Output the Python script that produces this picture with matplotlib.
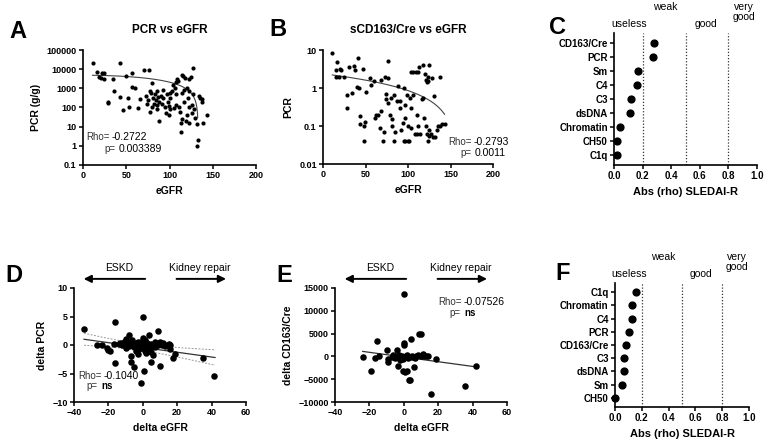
import matplotlib
matplotlib.use("Agg")
import matplotlib.pyplot as plt
import matplotlib.ticker as ticker
import numpy as np

plt.rcParams['font.family'] = ['Liberation Sans', 'DejaVu Sans']

# ---- data ----
# A: PCR vs eGFR
a_egfr = [11, 16, 19, 21, 22, 24, 24, 29, 29, 35, 36, 43, 43, 46, 50, 52, 53, 57, 57, 60,
          64, 66, 70, 73, 74, 75, 76, 77, 78, 79, 80, 80, 81, 82, 83, 84, 85, 86, 86, 87,
          88, 88, 90, 91, 92, 93, 95, 96, 97, 98, 99, 99, 100, 100, 101,
          103, 104, 106, 107, 108, 109, 110, 111, 112, 113, 113, 114, 115, 116, 117, 118, 119,
          120, 120, 121, 122, 123, 123, 125, 126, 126, 127, 128, 130, 132, 132, 133, 134, 135,
          137, 138, 139, 143, 105, 108, 115, 117, 122, 127]
a_pcr = [22000, 7000, 3800, 3500, 6000, 6500, 3000, 200, 170, 3000, 700, 22000, 350, 70, 4200,
         300, 100, 6000, 1200, 1100,
         90, 280, 9500, 400, 150, 250, 9500, 700, 60, 600, 2000, 100, 300, 150, 500, 250, 80,
         700, 130, 350, 20, 200, 400, 150, 300, 800, 100, 50, 500, 200, 40, 120, 600, 80, 300,
         700, 1500, 1000, 2200, 500, 3000, 2500, 100, 60, 16, 5, 600, 5000, 4500, 200, 3500, 20,
         1000, 40, 300, 3000, 100, 15, 3800, 130, 50, 12000, 80, 30, 14, 1, 2, 400, 300,
         280, 200, 15, 40, 90, 130, 25, 800, 700, 500]

# B: sCD163/Cre vs eGFR
b_egfr = [11, 17, 15, 15, 20, 21, 19, 25, 31, 28, 28, 34, 36, 41, 38, 47, 40, 42, 43, 43, 49,
          48, 48, 50, 55, 60, 56, 62, 61, 65, 68, 68, 71, 73, 76, 77, 74, 74, 67, 72, 77, 80,
          83, 79, 81, 81, 85, 84, 88, 90, 87, 91, 92, 95, 97, 100, 101, 95, 97, 96, 94, 100,
          104, 108, 110, 99, 102, 104, 106, 103, 106, 109, 112, 110, 112, 114, 116, 118, 119,
          113, 118, 120, 122, 121, 123, 124, 121, 125, 127, 129, 122, 123, 125, 125, 128, 131,
          132, 134, 135, 138, 140, 138, 143]
b_ratio = [8.2, 4.9, 3.0, 2.0, 3.2, 2.9, 2.0, 2.0, 3.6, 0.65, 0.29, 0.76, 3.8, 6.0, 2.9, 3.2,
           1.05, 1.0, 0.18, 0.11, 0.13, 0.10, 0.04, 0.8, 1.8, 1.5, 1.2, 0.2, 0.16, 0.2, 0.25,
           1.6, 0.04, 2.0, 1.8, 5.0, 0.7, 0.5, 0.09, 0.07, 0.4, 0.55, 0.65, 0.2, 0.15, 0.1,
           0.07, 0.04, 1.1, 0.3, 0.45, 0.45, 0.08, 0.04, 0.04, 0.04, 0.04, 0.98, 0.36, 0.16,
           0.12, 0.1, 0.09, 0.06, 0.06, 0.65, 0.55, 0.3, 0.65, 2.7, 2.7, 2.7, 2.6, 0.2, 0.1,
           0.06, 0.5, 0.55, 0.16, 3.5, 4.0, 2.3, 1.4, 1.6, 1.9, 1.5, 0.1, 0.08, 0.06, 0.05,
           0.06, 0.04, 0.055, 4.0, 1.8, 0.6, 0.05, 0.08, 0.1, 0.1, 0.11, 1.9, 0.11]

# C / F: abs(rho) vs SLEDAI-R
c_names = ["CD163/Cre", "PCR", "Sm", "C4", "C3", "dsDNA", "Chromatin", "CH50", "C1q"]
c_rho = [0.28, 0.27, 0.17, 0.16, 0.12, 0.11, 0.04, 0.02, 0.02]
f_names = ["C1q", "Chromatin", "C4", "PCR", "CD163/Cre", "C3", "dsDNA", "Sm", "CH50"]
f_rho = [0.16, 0.13, 0.125, 0.105, 0.085, 0.07, 0.07, 0.05, 0.0]
cut_lines = [0.2, 0.5, 0.8]

# D: delta PCR vs delta eGFR
d_egfr = [-34.2, -26.8, -23.9, -21, -20, -19, -16.2, -16.2, -17, -14, -13, -12, -11, -10, -10,
          -9, -8, -8, -7, -7, -7, -6, -6, -5, -5, -4, -4, -3, -3, -3, -2, -2, -1.2, -1, -1, 0,
          0, 0, 0, 0.5, 0.7, 1, 1, 2, 2, 2.5, 3, 3.8, 4, 4.8, 5, 5, 6, 6, 7, 7, 8, 9, 9, 10,
          10, 11, 12, 13, 14, 15, 15.8, 16, 17.7, 18.7, 34.8, 41.4]
d_pcr = [2.75, 0.0, 0.0, -0.6, -0.9, -1.1, 4.1, -3.1, 0.2, 0.1, 0.3, 0.0, 0.5, 1.0, -0.5, 0.2,
         1.7, -0.2, 0.5, -2.0, -2.9, 0.0, 0.8, -0.3, -3.9, 0.3, -1.1, 0.0, 0.6, -1.5, 0.1, -0.7,
         -6.7, 0.5, -0.3, 4.85, 1.2, 0.0, -0.5, 0.3, -4.5, -1.0, 0.8, -0.2, -1.4, 0.4, 0.0, 1.75,
         -0.6, -3.0, 0.2, -1.2, -1.7, 0.0, 0.5, -0.3, 0.2, 2.5, 0.0, -3.7, 0.5, 0.0, 0.3, -0.2,
         0.0, 0.1, -0.75, 0.0, -2.2, -1.6, -2.3, -5.4]

# E: delta CD163/Cre vs delta eGFR
e_egfr = [-23.9, -19, -16.7, -15.7, -14.4, -9.5, -9, -9, -7, -6, -5, -4, -4, -3.5, -3, -2.3,
          -2, -1, -0.5, 0, 0, 0, 0.2, -0.2, 0.9, 1, 1.8, 2, 2.5, 3, 3.3, 3.6, 4.1, 4.5, 5, 6,
          6.5, 7, 8, 9.1, 9.9, 10, 11, 12, 13, 14, 15.9, 18.8, 35.3, 42]
e_cd163 = [-130, -3200, -350, 3300, 0, 1340, -480, -1300, -100, 200, -300, 1340, 0, -2000, 300,
           -800, -200, 100, -500, 13620, 3000, 2500, -200, -3200, -3420, 0, -3270, 300, -400,
           -100, -5090, -5200, 3900, -200, 0, -2320, -300, 100, 200, 4850, 5000, 0, 500, 100,
           0, 0, -8150, -480, -6550, -2170]

# fitted lines (as drawn in the figure)
a_fit = (4830, 0.273)          # PCR = a - b*eGFR^2
b_fit = (2.37, -0.01515)       # ratio = a + b*eGFR
d_fit = (-0.43, -0.042)        # intercept, slope
d_band = (-2.0, 0.30, 0.00079)  # x mean, a, b  for half width sqrt(a + b*(x-xm)^2)
e_fit = (-136, -51.5)

# correlation labels
a_stats = ("-0.2722", "0.003389")
b_stats = ("-0.2793", "0.0011")
d_stats = ("-0.1040", "ns")
e_stats = ("-0.07526", "ns")

W, H = 764, 442
fig = plt.figure(figsize=(W / 100, H / 100), dpi=100)


def box(l, r, t, b):
    return [l / W, 1 - b / H, (r - l) / W, (b - t) / H]


def ftext(x, y, s, **kw):
    # text placed in figure pixels (from top-left)
    fig.text(x / W, 1 - y / H, s, va='center', **kw)


def style(ax):
    for s in ['top', 'right']:
        ax.spines[s].set_visible(False)
    for s in ['left', 'bottom']:
        ax.spines[s].set_linewidth(1.2)
    ax.tick_params(width=1.1, length=3, labelsize=6.5, pad=1.5)
    for lab in ax.get_xticklabels() + ax.get_yticklabels():
        lab.set_fontweight('bold')


def stats(rx, ry, px, py, rho, p):
    ftext(rx, ry, "Rho=", ha='right', fontsize=7, color='#333333')
    ftext(rx + 2, ry, rho, ha='left', fontsize=7.5)
    ftext(px, py, "p=", ha='right', fontsize=7, color='#333333')
    if p == "ns":
        ftext(px + 3, py, p, ha='left', fontsize=7, fontweight='bold')
    else:
        ftext(px + 3, py, p, ha='left', fontsize=7.5)


lab_kw = dict(fontsize=7.5, fontweight='bold')
fmt = ticker.FuncFormatter(lambda v, _: f"{v:g}")

# ---- A ----
ax = fig.add_axes(box(83, 256, 50, 165))
ax.scatter(a_egfr, a_pcr, s=9, c='black', linewidths=0, zorder=3)
fx = np.linspace(11, 132.6, 300)
ax.plot(fx, a_fit[0] - a_fit[1] * fx ** 2, color='#444444', lw=0.8)
ax.set_yscale('log')
ax.set_ylim(0.1, 100000)
ax.set_xlim(0, 200)
ax.set_xticks([0, 50, 100, 150, 200])
ax.yaxis.set_major_locator(ticker.LogLocator(base=10, numticks=10))
ax.yaxis.set_minor_locator(ticker.NullLocator())
ax.yaxis.set_major_formatter(fmt)
ax.set_xlabel("eGFR", **lab_kw)
ax.set_ylabel("PCR (g/g)", **lab_kw)
ax.set_title("PCR vs eGFR", fontsize=8.5, fontweight='bold', pad=12)
style(ax)
stats(110, 137, 116, 149, *a_stats)

# ---- B ----
ax = fig.add_axes(box(323, 493, 50, 164))
ax.scatter(b_egfr, b_ratio, s=9, c='black', linewidths=0, zorder=3)
fx = np.linspace(11, 143, 200)
ax.plot(fx, b_fit[0] + b_fit[1] * fx, color='#444444', lw=0.8)
ax.set_yscale('log')
ax.set_ylim(0.01, 10)
ax.set_xlim(0, 200)
ax.set_xticks([0, 50, 100, 150, 200])
ax.yaxis.set_major_locator(ticker.LogLocator(base=10, numticks=10))
ax.yaxis.set_minor_locator(ticker.NullLocator())
ax.yaxis.set_major_formatter(fmt)
ax.set_xlabel("eGFR", **lab_kw)
ax.set_ylabel("PCR", **lab_kw)
ax.set_title("sCD163/Cre vs eGFR", fontsize=8.5, fontweight='bold', pad=12)
style(ax)
stats(472, 142, 472, 153, *b_stats)


# ---- C / F ----
def rho_panel(l, r, t, b, names, vals):
    ax = fig.add_axes(box(l, r, t, b))
    hpx = b - t
    pos = np.arange(len(names))
    ax.scatter(vals, pos, s=24, c='black', zorder=3, clip_on=False)
    for v in cut_lines:
        ax.axvline(v, color='#333333', lw=0.9, ls=(0, (1, 1.5)))
    ax.set_yticks(pos)
    ax.set_yticklabels(names)
    ax.set_ylim(len(names) - 1 + 0.7, -0.7)
    ax.set_xlim(0, 1.0)
    ax.set_xticks([0.0, 0.2, 0.4, 0.6, 0.8, 1.0])
    ax.xaxis.set_major_formatter(ticker.FormatStrFormatter('%.1f'))
    ax.set_xlabel("Abs (rho) SLEDAI-R", fontsize=8, fontweight='bold')
    style(ax)
    ax.tick_params(axis='both', labelsize=7)
    for lab in ax.get_xticklabels() + ax.get_yticklabels():
        lab.set_fontweight('bold')
    low = 1 + 4 / hpx
    high = 1 + 21 / hpx
    mid = 1 + 11 / hpx
    ax.text(0.105, low, "useless", transform=ax.transAxes, ha='center', va='bottom', fontsize=7.5)
    ax.text(0.36, high, "weak", transform=ax.transAxes, ha='center', va='bottom', fontsize=7.5)
    ax.text(0.64, low, "good", transform=ax.transAxes, ha='center', va='bottom', fontsize=7.5)
    ax.text(0.91, mid, "very\ngood", transform=ax.transAxes, ha='center', va='bottom',
            fontsize=7.5, linespacing=0.95)
    return ax


rho_panel(614, 757, 33, 165, c_names, c_rho)
rho_panel(615, 749, 283, 407, f_names, f_rho)


# ---- D / E ----
def arrows(ax):
    akw = dict(arrowstyle='-|>', color='black', lw=1.4, mutation_scale=11)
    ax.annotate("", xy=(-36, 1.08), xytext=(3, 1.08), xycoords=('data', 'axes fraction'),
                arrowprops=akw)
    ax.annotate("", xy=(50, 1.08), xytext=(18, 1.08), xycoords=('data', 'axes fraction'),
                arrowprops=akw)
    ax.text(-14, 1.13, "ESKD", transform=ax.get_xaxis_transform(), ha='center',
            va='bottom', fontsize=7.5)
    ax.text(33, 1.13, "Kidney repair", transform=ax.get_xaxis_transform(), ha='center',
            va='bottom', fontsize=7.5)


ax = fig.add_axes(box(74, 246, 288, 402))
ax.scatter(d_egfr, d_pcr, s=22, c='black', linewidths=0, zorder=3)
fx = np.linspace(-34.2, 42, 200)
fy = d_fit[0] + d_fit[1] * fx
hw = np.sqrt(d_band[1] + d_band[2] * (fx - d_band[0]) ** 2)
ax.plot(fx, fy, color='#333333', lw=0.9)
ax.plot(fx, fy + hw, color='#999999', lw=0.7, ls=(0, (2, 1.5)))
ax.plot(fx, fy - hw, color='#999999', lw=0.7, ls=(0, (2, 1.5)))
ax.set_xlim(-40, 60)
ax.set_ylim(-10, 10)
ax.set_xticks([-40, -20, 0, 20, 40, 60])
ax.set_yticks([-10, -5, 0, 5, 10])
ax.set_xlabel("delta eGFR", **lab_kw)
ax.set_ylabel("delta PCR", **lab_kw)
style(ax)
arrows(ax)
stats(102, 376, 98, 386, *d_stats)

ax = fig.add_axes(box(335, 507, 288, 402))
ax.scatter(e_egfr, e_cd163, s=22, c='black', linewidths=0, zorder=3)
fx = np.linspace(-23.9, 42, 200)
ax.plot(fx, e_fit[0] + e_fit[1] * fx, color='#333333', lw=0.9)
ax.set_xlim(-40, 60)
ax.set_ylim(-10000, 15000)
ax.set_xticks([-40, -20, 0, 20, 40, 60])
ax.set_yticks([-10000, -5000, 0, 5000, 10000, 15000])
ax.set_xlabel("delta eGFR", **lab_kw)
ax.set_ylabel("delta CD163/Cre", **lab_kw)
style(ax)
arrows(ax)
stats(462, 302, 461, 313, *e_stats)

# panel letters
for letter, x, y in [("A", 18, 32), ("B", 278, 30), ("C", 558, 28),
                     ("D", 14, 276), ("E", 284, 276), ("F", 563, 274)]:
    fig.text(x / W, 1 - y / H, letter, fontsize=17, fontweight='bold', ha='center',
             va='center')

fig.savefig("out.png", dpi=100)
